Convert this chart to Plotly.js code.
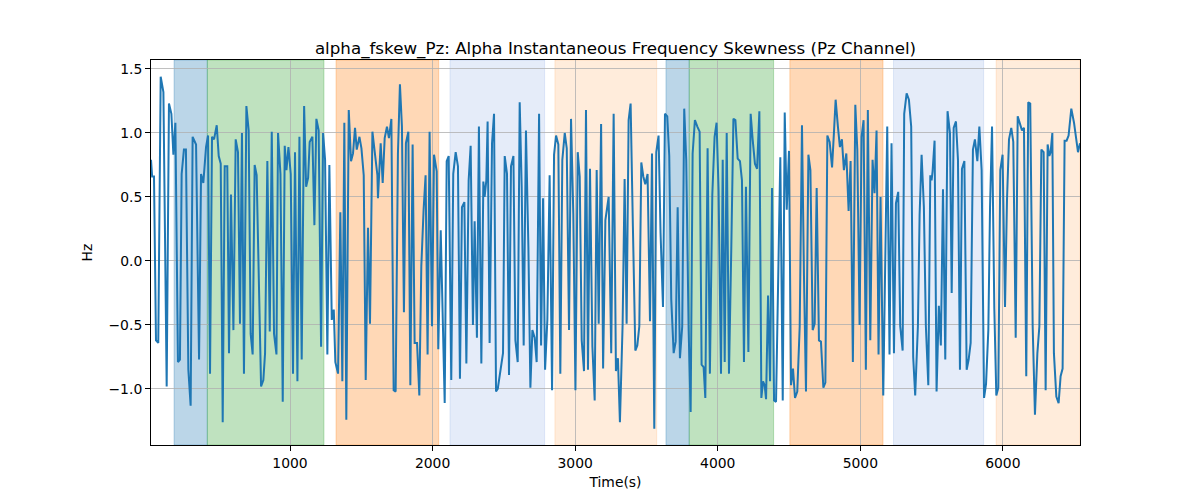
<!DOCTYPE html>
<html>
<head>
<meta charset="utf-8">
<script src="https://cdn.plot.ly/plotly-3.0.1.min.js"></script>
<style>
  body { margin: 0; background: #fff; }
  #chart { width: 1200px; height: 500px; }
</style>
</head>
<body>
<div id="chart"></div>
<script>
// ---- data ----
const timeSec = [
    25, 33, 46, 60, 76, 93, 112, 135, 151, 168, 182, 196, 214, 228, 240, 256, 270, 287, 303, 317,
    341, 362, 376, 392, 411, 425, 439, 453, 467, 486, 500, 514, 528, 542, 560, 572, 586, 603, 619, 635,
    649, 663, 677, 694, 710, 724, 738, 752, 766, 797, 813,
    825, 841, 858, 872, 888, 905, 916, 933, 949, 963, 975, 989, 1005, 1021, 1035, 1052, 1066, 1082, 1099, 1113,
    1127, 1138, 1157, 1171, 1185, 1201, 1218, 1232, 1246, 1262, 1276, 1293, 1307, 1318, 1337, 1353, 1367, 1381, 1395, 1412,
    1428, 1442, 1456, 1468, 1487, 1501, 1517, 1531, 1547, 1561, 1578, 1613,
    1617, 1636, 1650, 1664, 1680, 1694, 1711, 1727, 1741, 1757, 1771, 1785, 1799, 1813, 1830, 1844, 1860, 1874, 1891, 1907,
    1921, 1937, 1951, 1965, 1979, 1996, 2010, 2029, 2040, 2057, 2085, 2099, 2113, 2131, 2145, 2162, 2178, 2192, 2206, 2223,
    2237, 2253, 2267, 2283, 2295, 2311, 2325, 2342, 2356, 2365, 2377, 2386, 2400, 2417,
    2431, 2445, 2457, 2494, 2506, 2522, 2536, 2550, 2567, 2581, 2597, 2611, 2625, 2639, 2655, 2672, 2686, 2700, 2716, 2730,
    2747, 2761, 2775, 2789, 2805, 2821, 2838, 2852, 2866, 2882, 2896, 2910, 2927, 2941, 2957, 2971, 2987, 3002, 3018, 3032,
    3046, 3062, 3076, 3090, 3104, 3121, 3137, 3151, 3165, 3182, 3196, 3212,
    3221, 3235, 3253, 3270, 3286, 3300, 3314, 3333, 3347, 3361, 3375, 3389, 3405, 3422, 3436, 3450, 3464, 3478, 3492, 3508,
    3525, 3539, 3555, 3569, 3585, 3599, 3616, 3630, 3646, 3660, 3674, 3691, 3705, 3719, 3735, 3751, 3765, 3779, 3796, 3810,
    3824, 3840, 3857, 3873, 3887, 3901, 3913, 3929, 3945, 3962, 3978, 3992, 4006, 4023,
    4035, 4049, 4063, 4079, 4095, 4110, 4124, 4140, 4156, 4170, 4184, 4198, 4215, 4231, 4245, 4261, 4276, 4292, 4306, 4318,
    4329, 4339, 4353, 4367, 4381, 4395, 4409, 4439, 4456, 4470, 4484, 4500, 4514, 4528, 4542, 4558, 4575, 4591, 4605, 4619,
    4636, 4650, 4666, 4680, 4694, 4710, 4724, 4741, 4755, 4769, 4785, 4802, 4816,
    4827, 4843, 4857, 4871, 4885, 4902, 4918, 4932, 4948, 4965, 4979, 4995, 5009, 5023, 5039, 5053, 5070, 5086, 5100, 5114,
    5128, 5142, 5161, 5189, 5205, 5219, 5236, 5250, 5266, 5280, 5297, 5308, 5325, 5341, 5357, 5371, 5385, 5404, 5416, 5430,
    5446, 5460, 5477, 5491, 5500, 5507, 5521, 5535, 5551, 5565, 5580, 5596, 5612, 5629,
    5641, 5655, 5671, 5685, 5699, 5713, 5730, 5746, 5760, 5774, 5790, 5804, 5821, 5835, 5851, 5868, 5882, 5898, 5910, 5924,
    5940, 5954, 5968, 5982, 5998, 6015, 6029, 6043, 6059, 6073, 6090, 6104, 6120, 6134, 6148, 6164, 6178, 6192, 6209, 6225,
    6242, 6256, 6270, 6286, 6300, 6314, 6326, 6335, 6347, 6358, 6375, 6391, 6405, 6419, 6433, 6447, 6461, 6480, 6499, 6513,
    6527, 6541
];

const fskewHz = [
    0.79, 0.66, 0.66, -0.62, -0.64, 1.44, 1.32, -0.98, 1.23, 1.15, 0.83, 1.08, -0.79, -0.77, 0.68, 0.87, 0.87, -0.85, -1.13, 0.97,
    0.91, -0.77, 0.68, 0.61, 0.89, 0.98, -0.88, 0.97, 0.95, 1.06, 0.82, 0.76, -1.26, 0.74, 0.74, -0.72, 0.52, -0.54, 0.95, 0.85,
    -0.49, 1.0, -0.88, 1.21, 1.02, -0.57, -0.73, 0.75, 0.67, -0.98, -0.93,
    -0.72, 0.78, -0.55, 1.01, -0.57, -0.73, 1.0, 0.68, -1.10, 0.90, 0.71, 0.89, 0.68, -0.88, 0.85, -0.94, 0.97, -0.77, 1.21, 0.58,
    0.65, 0.93, 0.97, 0.28, 1.11, 1.02, -0.67, 1.0, 0.79, -0.73, 0.75, -0.46, -0.38, -0.79, -0.88, 0.38, -0.94, 1.08, -1.24, 1.18,
    0.78, 0.84, 1.04, 0.87, 0.97, 0.88, 0.67, -0.93, 0.26, -0.49, 1.01, 0.67,
    0.49, 0.92, 0.61, 0.96, 1.05, 0.96, 1.11, -1.01, -1.02, 0.84, 1.38, 1.05, -0.40, 0.92, 1.01, -0.97, 0.91, -0.64, -0.64, -1.05,
    -0.04, 0.40, 0.67, -0.73, 1.01, -0.51, 0.83, 0.70, -0.69, 0.24, -1.11, 0.78, 0.82, -0.93, 0.68, 0.85, 0.74, -0.92, 0.42, 0.46,
    -0.80, 0.63, 0.90, -0.50, 0.31, -0.60, 1.05, -0.80, 0.62, 0.50, 0.63, 1.09, -0.64, 0.92,
    1.15, -1.02, -1.0, -0.72, 0.82, 0.68, -0.89, 0.74, 0.82, -0.62, -0.79, 1.24, 0.58, -0.66, 1.02, 0.11, -0.99, -0.54, -0.60, -0.79,
    1.15, -0.66, 0.49, -0.85, -0.46, 0.67, -1.01, 0.83, 0.98, 0.91, -0.88, 0.79, 1.0, 0.88, -0.54, 1.11, 0.37, -1.01, 0.85, 0.66,
    -0.62, -0.86, 1.18, -0.85, 0.72, -0.67, -1.09, 0.71, -0.49, 1.07, -0.84, 0.32,
    0.40, 0.50, -0.72, 1.15, -0.86, -0.76, -1.26, -0.49, 0.64, -0.49, 1.10, 1.23, 0.27, -0.70, -0.66, -0.51, 0.77, 0.66, 0.60, 0.68,
    -0.47, 0.84, -1.31, 0.85, 0.98, 0.22, -0.36, 1.15, 1.13, 0.82, -0.30, -0.72, -0.63, 0.42, -0.76, -0.51, 1.19, 0.79, -0.54, -1.18,
    0.84, 1.10, 1.05, 1.01, -0.81, -0.83, -1.07, 0.88, -0.88, 0.52, 0.97, 1.08, 0.55, -0.88,
    0.79, -0.79, 1.0, -0.88, 0.09, 1.11, 1.10, 0.80, 0.78, 0.63, -0.79, 0.58, -0.71, 1.15, 0.95, 0.76, 0.72, 1.17, -1.07, -0.94,
    -0.97, -1.08, -0.27, -0.94, 0.57, -1.09, -1.10, 0.81, -1.09, 1.16, 0.40, 0.86, -0.97, -0.84, -1.07, -1.02, -0.51, 1.06, -0.12, -1.02,
    0.83, 0.71, -0.54, -0.49, 0.57, -0.62, -0.63, -0.99, -0.95, 0.98, 0.93, 0.73, 1.02,
    1.26, 1.05, 0.89, 0.95, 0.71, 0.84, 0.39, 0.78, -0.79, 1.22, 0.87, -0.50, 0.97, 1.10, -0.85, 1.18, -0.62, 0.79, 0.53, 1.02,
    -0.73, 0.50, -1.05, 1.05, -0.73, 0.92, -0.72, 0.45, 0.54, -0.51, -0.70, 1.15, 1.31, 1.26, 1.05, -0.75, -1.05, -0.51, 0.36, 0.83,
    0.42, -0.51, -0.97, 0.67, 0.63, 0.70, 0.94, -1.02, -0.35, -0.66, 0.56, -0.77, 1.17, 1.0,
    -0.25, 1.04, 1.09, 0.79, -0.85, 0.72, 0.78, -0.85, -0.77, -0.64, 0.87, 0.95, 0.78, 1.05, 0.71, -1.07, -0.96, -0.54, 0.42, 1.05,
    -0.37, -1.05, -0.99, 0.71, 0.83, -0.36, 0.48, 0.95, 1.04, 0.93, -0.60, 1.13, 1.06, 1.02, 1.04, -0.90, 1.24, 1.23, -0.51, -1.20,
    -0.72, -0.51, 0.87, 0.85, -1.01, 0.91, 0.82, 0.85, 1.0, -0.72, -1.06, -1.11, -0.90, -0.84, 0.94, 0.94, 0.98, 1.19, 1.08, 0.95,
    0.85, 0.92
];

// shaded state segments (seconds)
const segStart = [187, 420, 1323, 2122, 2858, 3637, 3800, 4506, 5233, 5953];
const segEnd   = [420, 1238, 2043, 2786, 3572, 3800, 4392, 5159, 5865, 6541];
const segState = ['blue', 'green', 'orange', 'paleBlue', 'paleOrange',
                  'blue', 'green', 'orange', 'paleBlue', 'paleOrange'];

const yTicks = [-1.0, -0.5, 0.0, 0.5, 1.0, 1.5];
const xTicks = [1000, 2000, 3000, 4000, 5000, 6000];

// colours for the states
const stateColors = {
    blue:       'rgba(31,119,180,0.3)',
    green:      'rgba(44,160,44,0.3)',
    orange:     'rgba(255,127,14,0.3)',
    paleBlue:   'rgba(70,120,210,0.14)',
    paleOrange: 'rgba(255,127,14,0.15)'
};

if (timeSec.length !== fskewHz.length) {
    console.warn('length mismatch', timeSec.length, fskewHz.length);
}

// Build the shaded bands
const shapes = segStart.map((s, i) => ({
    type: 'rect',
    xref: 'x',
    yref: 'paper',
    x0: s,
    x1: segEnd[i],
    y0: 0,
    y1: 1,
    fillcolor: stateColors[segState[i]],
    line: { color: stateColors[segState[i]], width: 1 },
    layer: 'below'
}));

const trace = {
    x: timeSec,
    y: fskewHz,
    type: 'scatter',
    mode: 'lines',
    line: { color: '#1f77b4', width: 2 },
    hoverinfo: 'x+y'
};

const axisCommon = {
    showline: true,
    linecolor: '#000',
    linewidth: 1,
    mirror: true,
    ticks: 'outside',
    ticklen: 5,
    tickwidth: 1,
    tickcolor: '#000',
    showgrid: true,
    gridcolor: '#b0b0b0',
    gridwidth: 0.8,
    zeroline: false,
    tickfont: { size: 13.9, color: '#000' }
};

const layout = {
    width: 1200,
    height: 500,
    margin: { l: 151, r: 120, t: 60, b: 55 },
    paper_bgcolor: '#fff',
    plot_bgcolor: '#fff',
    font: { family: 'DejaVu Sans, sans-serif', color: '#000' },
    showlegend: false,
    title: {
        text: 'alpha_fskew_Pz: Alpha Instantaneous Frequency Skewness (Pz Channel)',
        font: { size: 16.7, color: '#000' },
        xref: 'paper',
        x: 0.5,
        xanchor: 'center',
        yref: 'paper',
        y: 1,
        yanchor: 'bottom',
        pad: { b: 6 }
    },
    xaxis: Object.assign({}, axisCommon, {
        range: [25, 6541],
        tickvals: xTicks,
        ticktext: xTicks.map(String),
        title: { text: 'Time(s)', font: { size: 13.9, color: '#000' }, standoff: 7 }
    }),
    yaxis: Object.assign({}, axisCommon, {
        range: [-1.4375, 1.57],
        tickvals: yTicks,
        tickformat: '.1f',
        title: { text: 'Hz', font: { size: 13.9, color: '#000' }, standoff: 12 }
    }),
    shapes: shapes
};

Plotly.newPlot('chart', [trace], layout, { displayModeBar: false, staticPlot: true });
</script>
</body>
</html>
